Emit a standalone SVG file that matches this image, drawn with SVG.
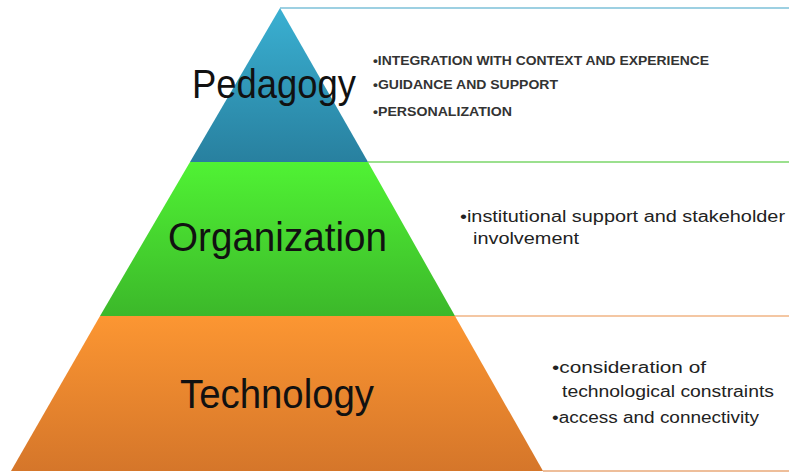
<svg xmlns="http://www.w3.org/2000/svg" width="789" height="473" viewBox="0 0 789 473">
<defs>
<linearGradient id="gb" x1="0" y1="0" x2="0" y2="1"><stop offset="0" stop-color="#3ab0d2"/><stop offset="1" stop-color="#28809f"/></linearGradient>
<linearGradient id="gg" x1="0" y1="0" x2="0" y2="1"><stop offset="0" stop-color="#50f234"/><stop offset="1" stop-color="#3cb82a"/></linearGradient>
<linearGradient id="go" x1="0" y1="0" x2="0" y2="1"><stop offset="0" stop-color="#fc9632"/><stop offset="1" stop-color="#d5762a"/></linearGradient>
</defs>
<style>
.big{font-family:"Liberation Sans","Noto Sans",sans-serif;font-size:40px;fill:#111}
.sm{font-family:"Liberation Sans","Noto Sans",sans-serif;font-size:12px;font-weight:bold;fill:#333}
.md{font-family:"Liberation Sans","Noto Sans",sans-serif;font-size:16px;fill:#222}
.ln{fill:none;stroke-width:1.5}
</style>
<rect width="789" height="473" fill="#fff"/>
<g id="connectors">
<line class="ln" x1="280" y1="8" x2="789" y2="8" stroke="#7cc0d8"/>
<line class="ln" x1="368" y1="162" x2="789" y2="162" stroke="#7ad668"/>
<line class="ln" x1="455" y1="316" x2="789" y2="316" stroke="#f0b585"/>
<line class="ln" x1="543" y1="471" x2="789" y2="471" stroke="#e8a878"/>
</g>
<g id="pedagogy">
<polygon points="280,8 368,162 190,162" fill="url(#gb)"/>
<text class="big" x="192" y="98" textLength="164" lengthAdjust="spacingAndGlyphs">Pedagogy</text>
<text class="sm" x="373" y="65" textLength="336" lengthAdjust="spacingAndGlyphs">•INTEGRATION WITH CONTEXT AND EXPERIENCE</text>
<text class="sm" x="373" y="89" textLength="185" lengthAdjust="spacingAndGlyphs">•GUIDANCE AND SUPPORT</text>
<text class="sm" x="373" y="116" textLength="139" lengthAdjust="spacingAndGlyphs">•PERSONALIZATION</text>
</g>
<g id="organization">
<polygon points="190,162 368,162 455,316 100,316" fill="url(#gg)"/>
<text class="big" x="168" y="251" textLength="219" lengthAdjust="spacingAndGlyphs">Organization</text>
<text class="md" x="460" y="222" textLength="325" lengthAdjust="spacingAndGlyphs">•institutional support and stakeholder</text>
<text class="md" x="473" y="244" textLength="106" lengthAdjust="spacingAndGlyphs">involvement</text>
</g>
<g id="technology">
<polygon points="100,316 455,316 543,471 11,471" fill="url(#go)"/>
<text class="big" x="180" y="408" textLength="194" lengthAdjust="spacingAndGlyphs">Technology</text>
<text class="md" x="552" y="373" textLength="154" lengthAdjust="spacingAndGlyphs">•consideration of</text>
<text class="md" x="562" y="397" textLength="212" lengthAdjust="spacingAndGlyphs">technological constraints</text>
<text class="md" x="552" y="423" textLength="207" lengthAdjust="spacingAndGlyphs">•access and connectivity</text>
</g>
</svg>
